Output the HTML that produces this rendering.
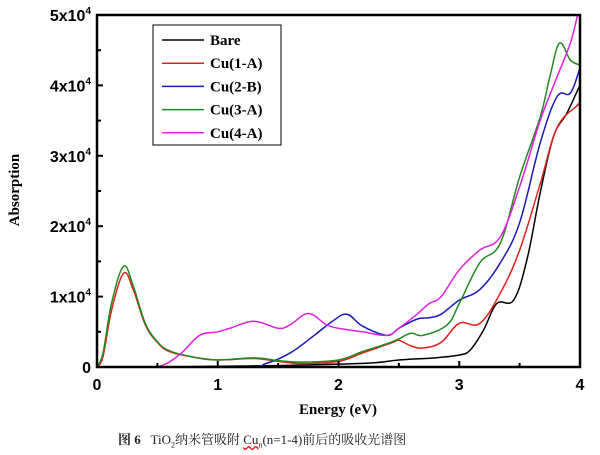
<!DOCTYPE html>
<html><head><meta charset="utf-8"><style>
body{margin:0;background:#fff;width:600px;height:455px;overflow:hidden}
svg{display:block}
</style></head><body>
<svg id="chart" width="600" height="455" xmlns="http://www.w3.org/2000/svg"></svg>
<script>
const xTicks=[0,1,2,3,4];
const yTicks=[0,1,2,3,4,5];
const bareX=[0,0.5,1,1.5,2,2.3,2.5,2.8,3.0,3.09,3.2,3.31,3.45,3.56,3.67,3.78,3.89,3.98,4.0];
const bareY=[0,0,0.01,0.02,0.04,0.06,0.1,0.13,0.17,0.24,0.52,0.9,0.95,1.52,2.47,3.27,3.6,3.93,4.0];
const redX=[0,0.05,0.12,0.22,0.3,0.4,0.5,0.6,0.8,1.0,1.3,1.5,1.7,2.0,2.2,2.45,2.5,2.6,2.7,2.85,3.0,3.17,3.34,3.5,3.67,3.81,3.98,4.0];
const redY=[0,0.15,0.8,1.33,1.1,0.6,0.35,0.22,0.14,0.1,0.12,0.08,0.05,0.08,0.2,0.35,0.38,0.3,0.27,0.35,0.62,0.62,1.05,1.66,2.6,3.4,3.72,3.78];
const blueX=[0,1.2,1.4,1.6,1.8,1.95,2.07,2.2,2.4,2.5,2.65,2.75,2.85,3.0,3.17,3.34,3.5,3.67,3.81,3.92,4.0];
const blueY=[0,0,0.05,0.2,0.45,0.65,0.75,0.58,0.45,0.55,0.68,0.7,0.75,0.95,1.1,1.48,2.05,3.18,3.84,3.89,4.25];
const greenX=[0,0.05,0.12,0.22,0.3,0.4,0.5,0.6,0.8,1.0,1.3,1.5,1.7,2.0,2.2,2.4,2.5,2.6,2.7,2.9,3.0,3.17,3.34,3.5,3.67,3.75,3.83,3.92,4.0];
const greenY=[0,0.2,0.9,1.43,1.15,0.62,0.36,0.23,0.14,0.1,0.13,0.09,0.07,0.1,0.22,0.33,0.4,0.48,0.45,0.6,0.9,1.48,1.76,2.7,3.55,4.12,4.6,4.36,4.29];
const magX=[0,0.4,0.55,0.7,0.85,1.0,1.1,1.3,1.5,1.6,1.75,1.9,2.0,2.2,2.4,2.5,2.65,2.75,2.85,3.0,3.17,3.34,3.5,3.67,3.81,3.92,3.98];
const magY=[0,0,0.03,0.2,0.45,0.5,0.55,0.65,0.55,0.6,0.76,0.6,0.55,0.5,0.45,0.55,0.75,0.9,1.0,1.38,1.66,1.85,2.56,3.5,4.12,4.6,5.0];
const seriesNames=["Bare","Cu(1-A)","Cu(2-B)","Cu(3-A)","Cu(4-A)"];
const seriesColors=["#000000","#e0201c","#1a1ab8","#1f8a1f","#e020e0"];

const L=97,R=580,T=15,B=367;
const sx=v=>L+v/4*(R-L);
const sy=v=>B-v/5*(B-T);
const svg=document.getElementById('chart');
const NS='http://www.w3.org/2000/svg';
function mk(tag,attrs,parent){const e=document.createElementNS(NS,tag);for(const k in attrs)e.setAttribute(k,attrs[k]);(parent||svg).appendChild(e);return e;}
function pathFor(xs,ys){
  const p=xs.map((x,i)=>[sx(x),sy(ys[i])]);
  let d='M'+p[0][0]+','+p[0][1];
  for(let i=0;i<p.length-1;i++){
    const p0=p[Math.max(0,i-1)],p1=p[i],p2=p[i+1],p3=p[Math.min(p.length-1,i+2)];
    const t=0.18;
    const c1=[p1[0]+(p2[0]-p0[0])*t,p1[1]+(p2[1]-p0[1])*t];
    const c2=[p2[0]-(p3[0]-p1[0])*t,p2[1]-(p3[1]-p1[1])*t];
    d+=` C${c1[0]},${c1[1]} ${c2[0]},${c2[1]} ${p2[0]},${p2[1]}`;
  }
  return d;
}
const defs=mk('defs',{});
const cp=mk('clipPath',{id:'pc'},defs);
mk('rect',{x:L,y:T,width:R-L,height:B-T},cp);
const seriesData=[[bareX,bareY],[redX,redY],[blueX,blueY],[greenX,greenY],[magX,magY]];
const g=mk('g',{'clip-path':'url(#pc)'});


seriesData.forEach((s,i)=>{
  const p=mk('path',{d:pathFor(s[0],s[1]),fill:'none',stroke:seriesColors[i],'stroke-width':1.5},g);
  
  
});
const fr=mk('rect',{x:L,y:T,width:R-L,height:B-T,fill:'none',stroke:'#000','stroke-width':2.5});


xTicks.forEach(v=>{
  mk('line',{x1:sx(v),x2:sx(v),y1:B,y2:B-6,stroke:'#000','stroke-width':2});
  if(v<4)mk('line',{x1:sx(v+0.5),x2:sx(v+0.5),y1:B,y2:B-4,stroke:'#000','stroke-width':2});
  const t=mk('text',{x:sx(v),y:390,'text-anchor':'middle','font-family':'Liberation Sans, sans-serif','font-size':16,'font-weight':'bold'});
  t.textContent=v;
  
  
});
yTicks.forEach(v=>{
  mk('line',{x1:L,x2:L+6,y1:sy(v),y2:sy(v),stroke:'#000','stroke-width':2});
  if(v<5)mk('line',{x1:L,x2:L+4,y1:sy(v+0.5),y2:sy(v+0.5),stroke:'#000','stroke-width':2});
  const t=mk('text',{x:91,y:sy(v)+6,'text-anchor':'end','font-family':'Liberation Sans, sans-serif','font-size':16,'font-weight':'bold'});
  if(v===0){t.textContent='0';}else{t.innerHTML=v+'x10<tspan dy="-7" font-size="10">4</tspan>';}
  
  
});
const xt=mk('text',{x:338,y:414,'text-anchor':'middle','font-family':'Liberation Serif, serif','font-size':15,'font-weight':'bold'});
xt.textContent='Energy (eV)';


const yt=mk('text',{x:19,y:190,'text-anchor':'middle','font-family':'Liberation Serif, serif','font-size':15,'font-weight':'bold',transform:'rotate(-90 19 190)'});
yt.textContent='Absorption';


const lg=mk('g',{});


mk('rect',{x:153,y:25,width:128,height:120,fill:'#fff',stroke:'#000','stroke-width':1},lg);
seriesNames.forEach((n,i)=>{
  const y=40+i*23.2;
  mk('line',{x1:162,x2:204,y1:y,y2:y,stroke:seriesColors[i],'stroke-width':1.5},lg);
  const t=mk('text',{x:210,y:y+5,'font-family':'Liberation Serif, serif','font-size':15,'font-weight':'bold'},lg);
  t.textContent=n;
  
  
});
</script>
<div style="position:absolute;left:118px;top:429px;font-family:'Liberation Serif','Noto Serif CJK SC',serif;font-size:13px;color:#222;white-space:nowrap"><b>图 6</b>&nbsp;&nbsp; TiO<sub style="font-size:8px">2</sub>纳米管吸附 <span style="text-decoration:underline wavy red">Cu<sub style="font-size:8px">n</sub></span>(n=1-4)前后的吸收光谱图</div>
</body></html>
